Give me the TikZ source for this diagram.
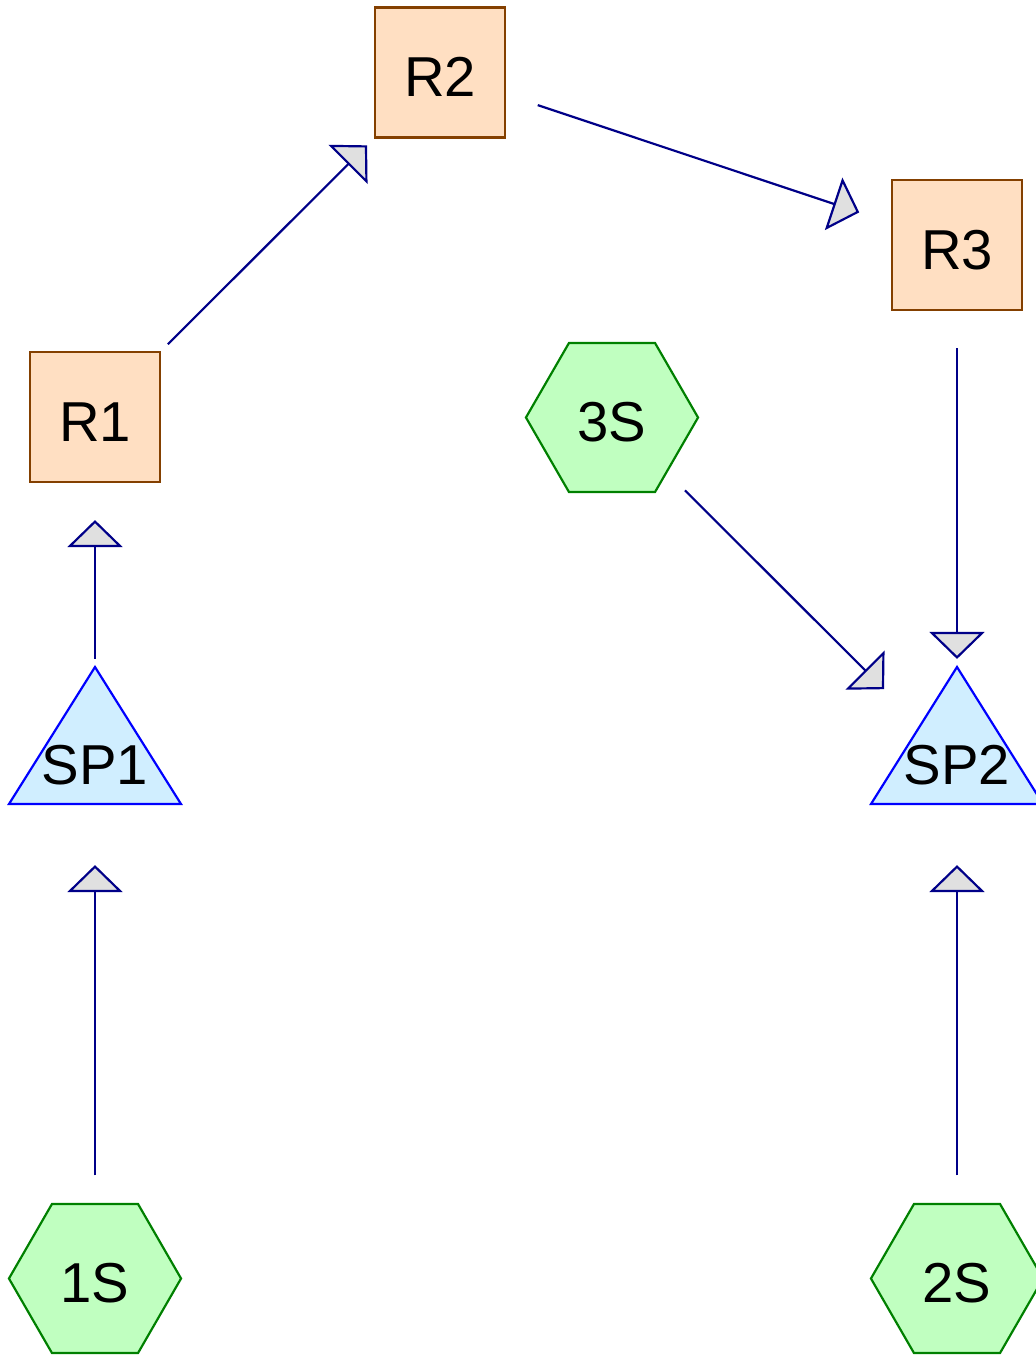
\documentclass[tikz,border=0pt]{standalone}
\usepackage{fontspec}
\setmainfont{Liberation Sans}
\usetikzlibrary{shapes.geometric,arrows.meta}
\definecolor{rfill}{HTML}{FFDFC2}
\definecolor{rdraw}{HTML}{844000}
\definecolor{hfill}{HTML}{C0FFC0}
\definecolor{hdraw}{HTML}{008000}
\definecolor{tfill}{HTML}{D0EEFF}
\definecolor{tdraw}{HTML}{0000FF}
\definecolor{conncol}{HTML}{000088}
\definecolor{agray}{HTML}{E0E0E0}
\begin{document}
\begin{tikzpicture}[x=0.01cm,y=-0.01cm,
  lbl/.style={font=\fontsize{16}{18}\selectfont, text=black},
  rbox/.style={lbl, rectangle, draw=rdraw, fill=rfill, line width=0.62pt,
    minimum size=1.3cm, inner sep=0pt, outer sep=0pt, text height=0.48cm, text depth=0cm},
  hexa/.style={lbl, regular polygon, regular polygon sides=6, draw=hdraw, fill=hfill,
    line width=0.62pt, minimum size=1.72cm, inner sep=0pt, outer sep=0pt,
    text height=0.48cm, text depth=0cm},
  trishape/.style={draw=tdraw, fill=tfill, line width=0.62pt, line join=miter},
  sptext/.style={lbl, inner sep=0pt, text height=0.45cm, text depth=0cm},
  conn/.style={draw=conncol, line width=0.62pt,
    -{Triangle[length=0.27cm,width=0.55cm,fill=agray]},
    shorten <=1.03cm, shorten >=1.03cm}
]
\useasboundingbox (0,0) rectangle (1035,1357);
\fill[white] (0,0) rectangle (1035,1357);

% triangles (SP nodes)
\draw[trishape] (95,667) -- (181,804) -- (9,804) -- cycle;
\node[sptext] (sp1) at (95,762) {SP1};
\draw[trishape] (957,667) -- (1043,804) -- (871,804) -- cycle;
\node[sptext] (sp2) at (957,762) {SP2};

% squares
\node[rbox] (r1) at (95,417) {R1};
\node[rbox] (r2) at (440,72.5) {R2};
\node[rbox] (r3) at (957,245) {R3};

% hexagons
\node[hexa] (s3) at (612,417.5) {3S};
\node[hexa] (s1) at (95,1278.5) {1S};
\node[hexa] (s2) at (957,1278.5) {2S};

% connectors
\draw[conn] (s1.center) -- (sp1.center);
\draw[conn] (sp1.center) -- (r1.center);
\draw[conn] (r1.center) -- (r2.center);
\draw[conn] (r2.center) -- (r3.center);
\draw[conn] (r3.center) -- (sp2.center);
\draw[conn] (s3.center) -- (sp2.center);
\draw[conn] (s2.center) -- (sp2.center);
\end{tikzpicture}
\end{document}
